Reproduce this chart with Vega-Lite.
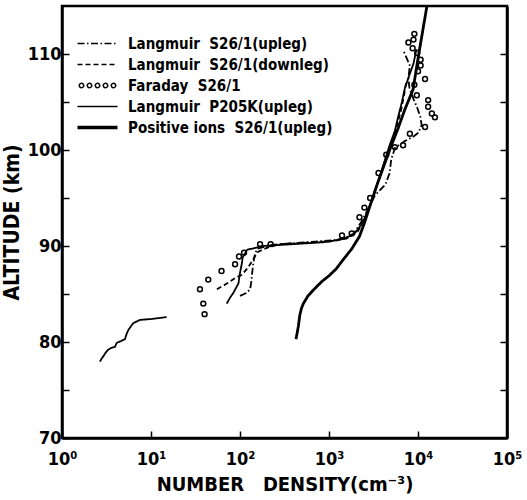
{
  "$schema": "https://vega.github.io/schema/vega-lite/v6.json",
  "width": 445,
  "height": 432,
  "autosize": "none",
  "padding": {"left": 62, "top": 6, "right": 20, "bottom": 62},
  "config": {
    "view": {"stroke": "black", "strokeWidth": 2.5},
    "font": "DejaVu Sans Condensed, DejaVu Sans, sans-serif",
    "axis": {
      "labelFont": "DejaVu Sans Condensed, DejaVu Sans, sans-serif",
      "titleFont": "DejaVu Sans Condensed, DejaVu Sans, sans-serif",
      "labelColor": "black", "titleColor": "black",
      "labelFontWeight": "bold", "titleFontWeight": "bold",
      "domainColor": "black", "domainWidth": 2.5,
      "tickColor": "black", "tickWidth": 1.5, "tickSize": -7,
      "grid": false
    }
  },
  "datasets": {
    "lines": [
      {"g": "up", "s": "up", "n": 100, "alt": 84.8}, {"g": "up", "s": "up", "n": 118, "alt": 85.1}, {"g": "up", "s": "up", "n": 130, "alt": 85.5},
      {"g": "up", "s": "up", "n": 134, "alt": 86.3}, {"g": "up", "s": "up", "n": 137, "alt": 87.2}, {"g": "up", "s": "up", "n": 141, "alt": 88.2},
      {"g": "up", "s": "up", "n": 146, "alt": 89.0}, {"g": "up", "s": "up", "n": 155, "alt": 89.7}, {"g": "up", "s": "up", "n": 220, "alt": 90.1},
      {"g": "up", "s": "up", "n": 400, "alt": 90.3}, {"g": "up", "s": "up", "n": 700, "alt": 90.45}, {"g": "up", "s": "up", "n": 1100, "alt": 90.6},
      {"g": "up", "s": "up", "n": 1500, "alt": 90.8}, {"g": "up", "s": "up", "n": 1900, "alt": 91.3}, {"g": "up", "s": "up", "n": 2300, "alt": 92.5},
      {"g": "up", "s": "up", "n": 2800, "alt": 94.0}, {"g": "up", "s": "up", "n": 3300, "alt": 95.3}, {"g": "up", "s": "up", "n": 4300, "alt": 96.4},
      {"g": "up", "s": "up", "n": 4800, "alt": 97.6}, {"g": "up", "s": "up", "n": 5000, "alt": 99.0}, {"g": "up", "s": "up", "n": 5500, "alt": 100.2},
      {"g": "up", "s": "up", "n": 7000, "alt": 100.9}, {"g": "up", "s": "up", "n": 8900, "alt": 101.4}, {"g": "up", "s": "up", "n": 10100, "alt": 101.8},
      {"g": "up", "s": "up", "n": 11000, "alt": 102.6}, {"g": "up", "s": "up", "n": 10600, "alt": 103.5}, {"g": "up", "s": "up", "n": 9800, "alt": 104.4},
      {"g": "up", "s": "up", "n": 9000, "alt": 105.2}, {"g": "up", "s": "up", "n": 8000, "alt": 106.5}, {"g": "up", "s": "up", "n": 7800, "alt": 107.5},
      {"g": "up", "s": "up", "n": 8100, "alt": 108.8}, {"g": "up", "s": "up", "n": 6900, "alt": 110.3},

      {"g": "down", "s": "down", "n": 55, "alt": 85.5}, {"g": "down", "s": "down", "n": 66, "alt": 85.9}, {"g": "down", "s": "down", "n": 77, "alt": 86.3},
      {"g": "down", "s": "down", "n": 90, "alt": 86.7}, {"g": "down", "s": "down", "n": 105, "alt": 87.0}, {"g": "down", "s": "down", "n": 124, "alt": 87.8},
      {"g": "down", "s": "down", "n": 147, "alt": 88.9}, {"g": "down", "s": "down", "n": 160, "alt": 89.4}, {"g": "down", "s": "down", "n": 200, "alt": 89.8},
      {"g": "down", "s": "down", "n": 280, "alt": 90.2}, {"g": "down", "s": "down", "n": 600, "alt": 90.35}, {"g": "down", "s": "down", "n": 1100, "alt": 90.5},
      {"g": "down", "s": "down", "n": 1600, "alt": 90.8}, {"g": "down", "s": "down", "n": 2100, "alt": 91.5}, {"g": "down", "s": "down", "n": 2500, "alt": 92.8},
      {"g": "down", "s": "down", "n": 2900, "alt": 94.3}, {"g": "down", "s": "down", "n": 3300, "alt": 95.8}, {"g": "down", "s": "down", "n": 3900, "alt": 97.8},
      {"g": "down", "s": "down", "n": 4600, "alt": 99.8}, {"g": "down", "s": "down", "n": 5300, "alt": 101.3}, {"g": "down", "s": "down", "n": 5900, "alt": 102.8},
      {"g": "down", "s": "down", "n": 6500, "alt": 104.3}, {"g": "down", "s": "down", "n": 7000, "alt": 105.8}, {"g": "down", "s": "down", "n": 7400, "alt": 107.2},

      {"g": "p205a", "s": "p205", "n": 2.67, "alt": 77.95}, {"g": "p205a", "s": "p205", "n": 2.8, "alt": 78.3}, {"g": "p205a", "s": "p205", "n": 2.91, "alt": 78.5},
      {"g": "p205a", "s": "p205", "n": 3.1, "alt": 78.9}, {"g": "p205a", "s": "p205", "n": 3.31, "alt": 79.2}, {"g": "p205a", "s": "p205", "n": 3.6, "alt": 79.4},
      {"g": "p205a", "s": "p205", "n": 3.94, "alt": 79.5}, {"g": "p205a", "s": "p205", "n": 4.11, "alt": 79.9}, {"g": "p205a", "s": "p205", "n": 4.6, "alt": 80.1},
      {"g": "p205a", "s": "p205", "n": 5.1, "alt": 80.3}, {"g": "p205a", "s": "p205", "n": 5.3, "alt": 80.8}, {"g": "p205a", "s": "p205", "n": 5.56, "alt": 81.25},
      {"g": "p205a", "s": "p205", "n": 6.3, "alt": 81.95}, {"g": "p205a", "s": "p205", "n": 7.5, "alt": 82.3}, {"g": "p205a", "s": "p205", "n": 10.2, "alt": 82.4},
      {"g": "p205a", "s": "p205", "n": 15, "alt": 82.6},

      {"g": "p205b", "s": "p205", "n": 71, "alt": 84.0}, {"g": "p205b", "s": "p205", "n": 77, "alt": 84.6}, {"g": "p205b", "s": "p205", "n": 84, "alt": 85.1},
      {"g": "p205b", "s": "p205", "n": 96, "alt": 86.1}, {"g": "p205b", "s": "p205", "n": 100, "alt": 87.2}, {"g": "p205b", "s": "p205", "n": 105, "alt": 88.2},
      {"g": "p205b", "s": "p205", "n": 107, "alt": 88.8}, {"g": "p205b", "s": "p205", "n": 120, "alt": 89.6}, {"g": "p205b", "s": "p205", "n": 180, "alt": 90.0},
      {"g": "p205b", "s": "p205", "n": 400, "alt": 90.2}, {"g": "p205b", "s": "p205", "n": 900, "alt": 90.4}, {"g": "p205b", "s": "p205", "n": 1400, "alt": 90.7},
      {"g": "p205b", "s": "p205", "n": 1900, "alt": 91.2}, {"g": "p205b", "s": "p205", "n": 2300, "alt": 92.2}, {"g": "p205b", "s": "p205", "n": 2700, "alt": 93.5},
      {"g": "p205b", "s": "p205", "n": 3100, "alt": 95.0}, {"g": "p205b", "s": "p205", "n": 3600, "alt": 96.8}, {"g": "p205b", "s": "p205", "n": 4200, "alt": 98.8},
      {"g": "p205b", "s": "p205", "n": 4800, "alt": 100.5}, {"g": "p205b", "s": "p205", "n": 5500, "alt": 102.0}, {"g": "p205b", "s": "p205", "n": 6000, "alt": 103.5},
      {"g": "p205b", "s": "p205", "n": 6600, "alt": 105.0}, {"g": "p205b", "s": "p205", "n": 7100, "alt": 106.4}, {"g": "p205b", "s": "p205", "n": 8000, "alt": 107.8},
      {"g": "p205b", "s": "p205", "n": 8900, "alt": 109.0}, {"g": "p205b", "s": "p205", "n": 9600, "alt": 110.5},

      {"g": "ions", "s": "ions", "n": 425, "alt": 80.3}, {"g": "ions", "s": "ions", "n": 440, "alt": 81.0}, {"g": "ions", "s": "ions", "n": 452, "alt": 81.6},
      {"g": "ions", "s": "ions", "n": 470, "alt": 82.8}, {"g": "ions", "s": "ions", "n": 490, "alt": 83.5}, {"g": "ions", "s": "ions", "n": 515, "alt": 84.0},
      {"g": "ions", "s": "ions", "n": 580, "alt": 84.8}, {"g": "ions", "s": "ions", "n": 665, "alt": 85.4}, {"g": "ions", "s": "ions", "n": 830, "alt": 86.3},
      {"g": "ions", "s": "ions", "n": 1000, "alt": 86.9}, {"g": "ions", "s": "ions", "n": 1200, "alt": 87.6}, {"g": "ions", "s": "ions", "n": 1450, "alt": 88.6},
      {"g": "ions", "s": "ions", "n": 1800, "alt": 89.7}, {"g": "ions", "s": "ions", "n": 2200, "alt": 91.0}, {"g": "ions", "s": "ions", "n": 2500, "alt": 92.4},
      {"g": "ions", "s": "ions", "n": 2800, "alt": 93.8}, {"g": "ions", "s": "ions", "n": 3500, "alt": 96.5}, {"g": "ions", "s": "ions", "n": 4800, "alt": 100.0},
      {"g": "ions", "s": "ions", "n": 6000, "alt": 102.3}, {"g": "ions", "s": "ions", "n": 7100, "alt": 104.2}, {"g": "ions", "s": "ions", "n": 8800, "alt": 106.3},
      {"g": "ions", "s": "ions", "n": 10200, "alt": 110.0}, {"g": "ions", "s": "ions", "n": 12600, "alt": 115.0}
    ],
    "far": [
      {"n": 40, "alt": 82.9}, {"n": 38.7, "alt": 84.0}, {"n": 35.5, "alt": 85.5}, {"n": 44, "alt": 86.5}, {"n": 62, "alt": 87.4},
      {"n": 88, "alt": 88.1}, {"n": 97.5, "alt": 88.9}, {"n": 111, "alt": 89.3}, {"n": 168, "alt": 90.2}, {"n": 221, "alt": 90.2},
      {"n": 1400, "alt": 91.1}, {"n": 1800, "alt": 91.3}, {"n": 2200, "alt": 93.0}, {"n": 2500, "alt": 94.0}, {"n": 2900, "alt": 95.0},
      {"n": 3600, "alt": 97.6}, {"n": 4400, "alt": 99.5}, {"n": 5500, "alt": 100.3}, {"n": 6800, "alt": 100.5}, {"n": 8100, "alt": 101.7},
      {"n": 12000, "alt": 102.4}, {"n": 15500, "alt": 103.4}, {"n": 14300, "alt": 103.8}, {"n": 13000, "alt": 104.5}, {"n": 13000, "alt": 105.2},
      {"n": 9700, "alt": 105.7}, {"n": 9100, "alt": 106.8}, {"n": 12000, "alt": 107.4}, {"n": 10000, "alt": 108.2}, {"n": 10700, "alt": 108.8},
      {"n": 10700, "alt": 109.4}, {"n": 9800, "alt": 110.1}, {"n": 8700, "alt": 110.6}, {"n": 7800, "alt": 111.2}, {"n": 8900, "alt": 111.5},
      {"n": 9100, "alt": 112.1}
    ]
  },
  "encoding": {
    "x": {
      "field": "n", "type": "quantitative",
      "scale": {"type": "log", "domain": [1, 100000], "nice": false},
      "axis": {
        "values": [1, 10, 100, 1000, 10000, 100000],
        "labelExpr": "'10' + ['⁰','¹','²','³','⁴','⁵'][round(log(datum.value)/LN10)]",
        "labelFontSize": 18, "labelPadding": 19, "labelFlush": false,
        "title": "NUMBER\u00a0\u00a0\u00a0DENSITY(cm⁻³)", "titleFontSize": 20, "titlePadding": 6
      }
    }
  },
  "layer": [
    {
      "data": {"name": "lines"},
      "mark": {"type": "line", "color": "black", "strokeCap": "butt", "strokeJoin": "round"},
      "encoding": {
        "y": {
          "field": "alt", "type": "quantitative",
          "scale": {"domain": [70, 115], "nice": false, "zero": false},
          "axis": {
            "orient": "left",
            "values": [70, 75, 80, 85, 90, 95, 100, 105, 110],
            "labelExpr": "datum.value % 10 === 0 ? datum.label : ''",
            "labelFontSize": 18, "labelPadding": 8,
            "title": "ALTITUDE (km)", "titleFontSize": 21, "titlePadding": 5
          }
        },
        "detail": {"field": "g"},
        "order": {"field": "alt", "type": "quantitative"},
        "strokeWidth": {"condition": {"test": "datum.s === 'ions'", "value": 2.8}, "value": 1.8},
        "strokeDash": {
          "field": "s", "type": "nominal",
          "scale": {
            "domain": ["up", "down", "far", "p205", "ions"],
            "range": [[7, 2.5, 1.5, 2.5], [5, 3], [1, 0], [1, 0], [1, 0]]
          },
          "legend": {
            "title": null,
            "orient": "none", "legendX": 28, "legendY": 30,
            "symbolType": "stroke", "symbolSize": 1600,
            "symbolStrokeColor": "black", "symbolFillColor": "transparent",
            "labelFontSize": 15, "labelFontWeight": "bold", "labelColor": "black",
            "labelFont": "DejaVu Sans Condensed, DejaVu Sans, sans-serif",
            "labelOffset": 23, "labelLimit": 0, "rowPadding": 5,
            "labelExpr": "{'up': 'Langmuir\u00a0\u00a0S26/1(upleg)', 'down': 'Langmuir\u00a0\u00a0S26/1(downleg)', 'far': 'Faraday\u00a0\u00a0S26/1', 'p205': 'Langmuir\u00a0\u00a0P205K(upleg)', 'ions': 'Positive ions\u00a0\u00a0S26/1(upleg)'}[datum.value]",
            "encode": {
              "symbols": {
                "update": {
                  "shape": {"signal": "datum.value === 'far' ? 'M-0.69,0A0.11,0.11 0 1,1 -0.91,0A0.11,0.11 0 1,1 -0.69,0M-0.29,0A0.11,0.11 0 1,1 -0.51,0A0.11,0.11 0 1,1 -0.29,0M0.11,0A0.11,0.11 0 1,1 -0.11,0A0.11,0.11 0 1,1 0.11,0M0.51,0A0.11,0.11 0 1,1 0.29,0A0.11,0.11 0 1,1 0.51,0M0.91,0A0.11,0.11 0 1,1 0.69,0A0.11,0.11 0 1,1 0.91,0' : 'stroke'"},
                  "strokeWidth": {"signal": "datum.value === 'ions' ? 3.4 : (datum.value === 'p205' ? 1.6 : 1.5)"},
                  "stroke": {"value": "black"},
                  "fill": {"value": "transparent"},
                  "opacity": {"value": 1}
                }
              }
            }
          }
        }
      }
    },
    {
      "data": {"name": "far"},
      "mark": {"type": "point", "shape": "circle", "filled": false, "color": "black", "size": 24, "strokeWidth": 1.5, "opacity": 1},
      "encoding": {
        "y": {
          "field": "alt", "type": "quantitative",
          "scale": {"domain": [70, 115], "nice": false, "zero": false},
          "axis": {
            "orient": "right",
            "values": [75, 80, 85, 90, 95, 100, 105, 110],
            "labels": false, "title": null
          }
        }
      }
    }
  ],
  "resolve": {"axis": {"y": "independent"}}
}
